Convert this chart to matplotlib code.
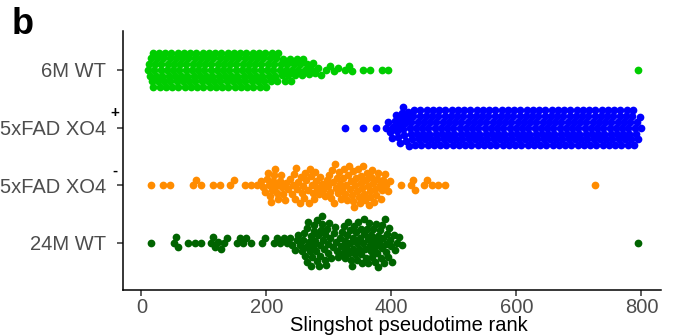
import numpy as np
import matplotlib.pyplot as plt
from matplotlib import transforms

plt.rcParams['font.family'] = ['Liberation Sans', 'DejaVu Sans']

# groups, bottom to top
groups = ['24M WT', '5xFAD XO4', '5xFAD XO4', '6M WT']
superscripts = ['', '-', '+', '']
colors = ['#006400', '#FF8C00', '#0000FF', '#00CD00']

# number of cells per 10-rank bin (bin k covers ranks 10k .. 10k+10)
bin_width = 10
green_6m = [0, 7, 7, 7, 7, 7, 7, 7, 7, 7,
            7, 7, 7, 7, 7, 7, 7, 7, 7, 7,
            6, 6, 5, 5, 4, 4, 3, 3, 2, 1,
            2, 1, 1, 2, 0, 1, 1, 0, 1, 1,
            0, 0, 0, 0, 0, 0, 0, 0, 0, 0,
            0, 0, 0, 0, 0, 0, 0, 0, 0, 0,
            0, 0, 0, 0, 0, 0, 0, 0, 0, 0,
            0, 0, 0, 0, 0, 0, 0, 0, 0, 1]
blue_xo4_pos = [0, 0, 0, 0, 0, 0, 0, 0, 0, 0,
                0, 0, 0, 0, 0, 0, 0, 0, 0, 0,
                0, 0, 0, 0, 0, 0, 0, 0, 0, 0,
                0, 0, 1, 0, 0, 1, 0, 1, 0, 3,
                5, 7, 7, 7, 7, 7, 7, 7, 7, 7,
                7, 7, 7, 7, 7, 7, 7, 7, 7, 7,
                7, 7, 7, 7, 7, 7, 7, 7, 7, 7,
                7, 7, 7, 7, 7, 7, 7, 7, 7, 5]
orange_xo4_neg = [0, 1, 0, 1, 1, 0, 0, 0, 2, 1,
                  0, 1, 1, 0, 2, 0, 1, 1, 1, 3,
                  6, 6, 5, 3, 6, 5, 6, 6, 4, 4,
                  7, 6, 6, 7, 7, 7, 7, 6, 5, 3,
                  0, 1, 0, 3, 0, 2, 1, 1, 1, 0,
                  0, 0, 0, 0, 0, 0, 0, 0, 0, 0,
                  0, 0, 0, 0, 0, 0, 0, 0, 0, 0,
                  0, 0, 1, 0, 0, 0, 0, 0, 0, 0]
dkgreen_24m = [0, 1, 0, 0, 0, 3, 0, 1, 1, 1,
               0, 3, 2, 2, 0, 2, 2, 1, 0, 2,
               0, 2, 2, 2, 3, 4, 8, 8, 9, 8,
               6, 5, 7, 8, 8, 8, 8, 8, 8, 7,
               4, 2, 0, 0, 0, 0, 0, 0, 0, 0,
               0, 0, 0, 0, 0, 0, 0, 0, 0, 0,
               0, 0, 0, 0, 0, 0, 0, 0, 0, 0,
               0, 0, 0, 0, 0, 0, 0, 0, 0, 1]
counts = [dkgreen_24m, orange_xo4_neg, blue_xo4_pos, green_6m]


def bins_to_ranks(c):
    out = []
    for k, n in enumerate(c):
        for j in range(n):
            out.append(k * bin_width + (j + 0.5) * bin_width / n)
    return np.array(out)


def swarm(xpix, d):
    # place points in x order, each as close to the centre line as it fits
    ys = np.zeros(len(xpix))
    px, py = [], []
    for i in np.argsort(xpix, kind='stable'):
        x = xpix[i]
        ax_ = np.array(px)
        ay_ = np.array(py)
        near = np.abs(ax_ - x) < d if len(ax_) else np.zeros(0, bool)
        nx, ny = ax_[near], ay_[near]
        cands = [0.0]
        for a, b in zip(nx, ny):
            h = np.sqrt(d * d - (a - x) ** 2)
            cands += [b + h, b - h]
        cands.sort(key=abs)
        for c in cands:
            if np.all((nx - x) ** 2 + (ny - c) ** 2 >= d * d - 1e-6):
                ys[i] = c
                break
        px.append(x)
        py.append(ys[i])
    return ys


fig = plt.figure(figsize=(6.74, 3.36), dpi=100)
ax = fig.add_axes([123 / 674, 46 / 336, 538 / 674, 259 / 336])
ax.set_xlim(-29.4, 831.4)
ax.set_ylim(-0.815, 3.676)

px_per_x = 538 / (831.4 + 29.4)
px_per_y = 259 / (3.676 + 0.815)

for i, (c, col) in enumerate(zip(counts, colors)):
    r = bins_to_ranks(c)
    off = swarm(r * px_per_x, 6.0)
    ax.scatter(r, i + off / px_per_y, s=31, color=col, linewidths=0, zorder=3)

ax.set_yticks(range(4))
ax.set_yticklabels(groups)
ax.set_xticks([0, 200, 400, 600, 800])
for sp in ['top', 'right']:
    ax.spines[sp].set_visible(False)
for sp in ['left', 'bottom']:
    ax.spines[sp].set_linewidth(1.1)
ax.tick_params(axis='y', length=4, width=1.1, pad=8, labelsize=14.5, labelcolor='#4D4D4D', color='#333333')
ax.tick_params(axis='x', length=4, width=1.1, pad=2, labelsize=14.5, labelcolor='#4D4D4D', color='#333333')
ax.set_xlabel('Slingshot pseudotime rank', fontsize=14.5, labelpad=0)
ax.xaxis.set_label_coords(0.532, -0.1)

trans = transforms.blended_transform_factory(ax.transAxes, ax.transData)
for i, s in enumerate(superscripts):
    if s:
        ax.text(-0.015, i + 0.26, s, transform=trans, fontsize=11, fontweight='bold',
                ha='center', va='center', color='black')

fig.text(12 / 674, 1 - 24 / 336, 'b', fontsize=26, fontweight='bold', va='center', ha='left')

fig.savefig('out.png', dpi=100)
